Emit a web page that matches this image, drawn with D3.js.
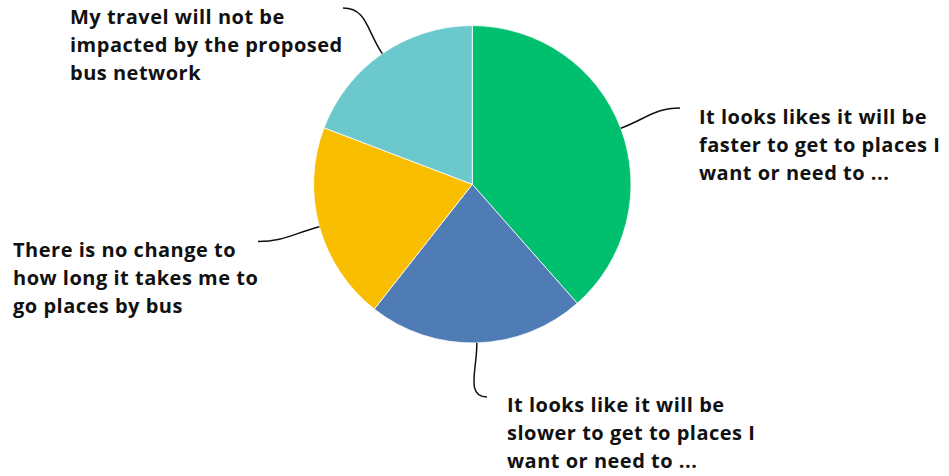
<!DOCTYPE html>
<html>
<head>
<meta charset="utf-8">
<script src="https://cdn.jsdelivr.net/npm/d3@7"></script>
<style>
  html, body { margin: 0; padding: 0; background: #fff; }
  svg { display: block; }
  .lbl { font-family: "Open Sans", Lato, sans-serif; font-weight: 700; font-size: 20px; letter-spacing: 0.5px; fill: #111; }
</style>
</head>
<body>
<svg id="chart" width="949" height="476"></svg>
<script>
// Survey responses: share of respondents per answer (%)
const answers = [
  "It looks likes it will be faster to get to places I want or need to ...",
  "It looks like it will be slower to get to places I want or need to ...",
  "There is no change to how long it takes me to go places by bus",
  "My travel will not be impacted by the proposed bus network"
];
const shares = [38.5, 22.1, 20.2, 19.2];
const sliceColors = ["#00bf6f", "#507cb6", "#f9be00", "#6bc8cd"];
// Wrapped label lines, one list per answer
const labelLines = [
  ["It looks likes it will be", "faster to get to places I", "want or need to ..."],
  ["It looks like it will be", "slower to get to places I", "want or need to ..."],
  ["There is no change to", "how long it takes me to", "go places by bus"],
  ["My travel will not be", "impacted by the proposed", "bus network"]
];

const svg = d3.select("#chart");
const cx = 472.3, cy = 184.3, radius = 158.7;

const pie = d3.pie().sort(null).value(d => d.value);
const arcs = pie(shares.map((v, i) => ({ value: v, i })));
const arc = d3.arc().innerRadius(0).outerRadius(radius);
const color = d3.scaleOrdinal().domain(d3.range(shares.length)).range(sliceColors);

const g = svg.append("g").attr("transform", `translate(${cx},${cy})`);
g.selectAll("path.slice")
  .data(arcs)
  .join("path")
  .attr("class", "slice")
  .attr("d", arc)
  .attr("fill", d => color(d.data.i))
  .attr("stroke", "#fff")
  .attr("stroke-width", 0.8);

// Label layout: text anchor (left x, first baseline) and where the leader meets it
const labelPos = [
  { x: 699, y: 123.5, end: [680, 108], dir: 1 },
  { x: 507, y: 411.5, end: [487, 397], dir: 1 },
  { x: 13,  y: 256.5, end: [258, 241.5], dir: -1 },
  { x: 70,  y: 23.5,  end: [343, 8], dir: -1 }
];
const lineHeight = 28.4;

arcs.forEach((d, k) => {
  const pos = labelPos[k];
  const mid = (d.startAngle + d.endAngle) / 2;
  const sx = cx + radius * Math.sin(mid), sy = cy - radius * Math.cos(mid);
  const [ex, ey] = pos.end;
  const dist = Math.hypot(ex - sx, ey - sy);
  const c1 = [sx + Math.sin(mid) * dist * 0.45, sy - Math.cos(mid) * dist * 0.45];
  const c2 = [ex - pos.dir * dist * 0.4, ey];
  const p = d3.path();
  p.moveTo(sx, sy);
  p.bezierCurveTo(c1[0], c1[1], c2[0], c2[1], ex, ey);
  svg.append("path")
    .attr("d", p.toString())
    .attr("fill", "none")
    .attr("stroke", "#111")
    .attr("stroke-width", 1.5);

  const t = svg.append("text").attr("class", "lbl");
  labelLines[k].forEach((line, j) => {
    t.append("tspan").attr("x", pos.x).attr("y", pos.y + j * lineHeight).text(line);
  });
  t.append("title").text(answers[k]);
});
</script>
</body>
</html>
